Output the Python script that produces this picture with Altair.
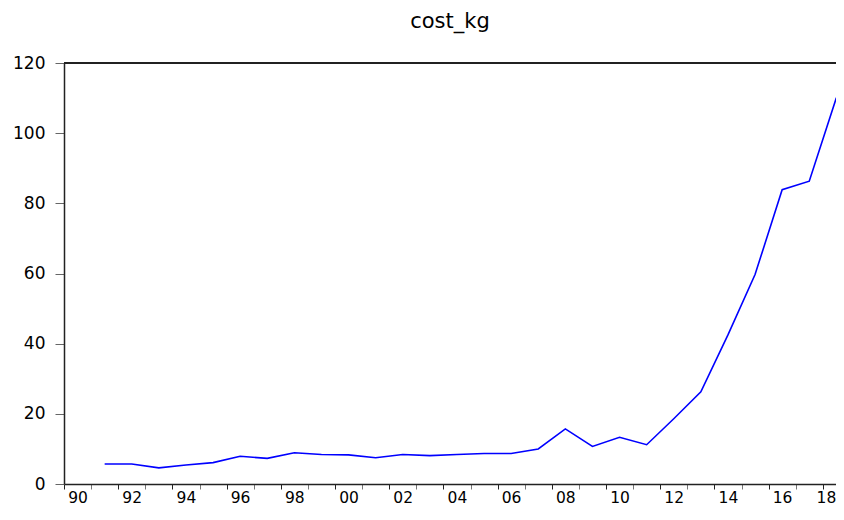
import altair as alt
import pandas as pd

years = list(range(1991, 2019))
cost_kg = [5.7, 5.7, 4.6, 5.4, 6.1, 7.9, 7.3, 8.9, 8.4, 8.3, 7.5, 8.4, 8.1, 8.4,
           8.7, 8.7, 10.0, 15.7, 10.7, 13.3, 11.2, 18.6, 26.3, 42.5, 59.7, 83.9,
           86.3, 110.1]
tick_years = list(range(1990, 2019))
y_ticks = [0, 20, 40, 60, 80, 100, 120]

df = pd.DataFrame({"year": years, "cost_kg": cost_kg})

FONT = "DejaVu Sans"
W = 772
H = 421

base = alt.Chart(df).transform_calculate(xpos="datum.year + 0.5")

line = base.mark_line(color="#0000FF", strokeWidth=1.6).encode(
    x=alt.X(
        "xpos:Q",
        scale=alt.Scale(domain=[1990, 2018.487], nice=False, zero=False),
        axis=alt.Axis(
            title=None,
            values=tick_years,
            labelExpr="datum.value % 2 == 0 ? slice(toString(datum.value), 2) : ''",
            labelOffset={"condition": {"test": "datum.value == 2018", "value": 13}, "value": 13.5},
            labelAlign={"condition": {"test": "datum.value == 2018", "value": "right"}, "value": "center"},
            labelFlush=False,
            labelOverlap=False,
            labelBound=False,
            grid=False,
            tickSize=5,
            tickColor={"condition": {"test": "datum.value % 2 == 0", "value": "#222"}, "value": "#777"},
            domainColor="#222",
            domainWidth=1.5,
            labelPadding=1,
            labelFont=FONT,
            labelFontSize=15.5,
            labelColor="black",
        ),
    ),
    y=alt.Y(
        "cost_kg:Q",
        scale=alt.Scale(domain=[0, 120], nice=False),
        axis=alt.Axis(
            title=None,
            values=y_ticks,
            grid=False,
            tickSize=9,
            tickColor="#666",
            domainColor="#222",
            domainWidth=1.5,
            labelPadding=10,
            labelFont=FONT,
            labelFontSize=17,
            labelColor="black",
            labelFlush=False,
            labelOverlap=False,
        ),
    ),
)

top_border = base.mark_rule(color="#222", strokeWidth=1.5).encode(
    x=alt.value(0), x2=alt.value(W), y=alt.value(0)
)

chart = (
    alt.layer(line, top_border)
    .properties(
        width=W,
        height=H,
        title=alt.TitleParams(
            "cost_kg",
            font=FONT,
            fontSize=21,
            fontWeight="normal",
            color="black",
            anchor="middle",
            offset=22,
        ),
        autosize=alt.AutoSizeParams(type="none"),
        padding={"left": 56, "top": 55, "right": 0, "bottom": 22},
    )
    .configure(background="white", view=alt.ViewConfig(strokeWidth=0))
)

chart.save("out.html", embed_options={"renderer": "svg", "actions": False})
